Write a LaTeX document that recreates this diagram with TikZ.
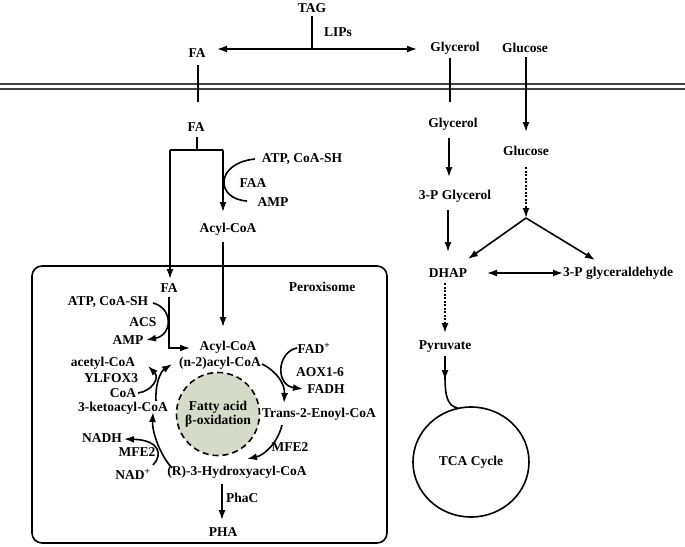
\documentclass[tikz,border=0pt]{standalone}
\usepackage{fontspec}
\setmainfont{Liberation Serif}
\usetikzlibrary{arrows.meta,shapes.geometric}
\definecolor{sage}{RGB}{214,218,200}
\begin{document}
\begin{tikzpicture}[x=1pt,y=-1pt,
  lbl/.style={font=\fontsize{13.5}{15}\selectfont\bfseries, inner sep=0pt},
  ln/.style={line width=1.6pt},
  arr/.style={ln,-{Latex[length=10pt,width=7pt]}},
  dblarr/.style={ln,{Latex[length=10pt,width=7pt]}-{Latex[length=10pt,width=7pt]}},
  dotarr/.style={arr,dash pattern=on 2pt off 1.5pt},
  mem/.style={line width=2pt,draw=black!75},
  perox/.style={draw,line width=1.6pt,rounded corners=10pt},
  betaox/.style={circle,draw,line width=1.6pt,dash pattern=on 6pt off 4pt,fill=sage,minimum size=83pt,inner sep=0pt},
  tca/.style={ellipse,draw,line width=1.6pt,minimum width=116pt,minimum height=110pt},
]
\useasboundingbox (0,0) rectangle (685,546);

% membrane
\draw[mem] (0,84) -- (685,84);
\draw[mem] (0,89) -- (685,89);

% outside
\node[lbl] (tag) at (312,8) {TAG};
\node[lbl] (lips) at (338,32) {LIPs};
\node[lbl] (fa0) at (197,53) {FA};
\node[lbl] (gly0) at (455,48) {Glycerol};
\node[lbl] (glc0) at (525,48) {Glucose};
\coordinate (lipmid) at (312,49);
\coordinate (lipL) at (217,49);
\coordinate (lipR) at (417,49);
\draw[ln] (312,16) -- (lipmid);
\draw[dblarr] (lipL) -- (lipR);

% crossing lines
\coordinate (fain) at (198,102);
\coordinate (glyin) at (450,102);
\draw[ln] (198,65) -- (fain);
\draw[ln] (450,58) -- (glyin);

% right-hand pathway
\node[lbl] (gly1) at (453,124) {Glycerol};
\node[lbl] (glc1) at (526,151) {Glucose};
\node[lbl] (pgly) at (455,196) {3-P Glycerol};
\node[lbl] (dhap) at (448,273) {DHAP};
\node[lbl,anchor=west] (gap) at (563,273) {3-P glyceraldehyde};
\node[lbl] (pyr) at (445,347) {Pyruvate};
\coordinate (split) at (526,218);
\draw[arr] (526,57) -- (526,132);
\draw[arr] (449,138) -- (449,177);
\draw[arr] (448,210) -- (448,252);
\draw[dotarr] (526,167) -- (split);
\draw[arr] (split) -- (468,259);
\draw[arr] (split) -- (595,260);
\draw[dblarr] (487,273) -- (gap.west);
\draw[dotarr] (445,283) -- (445,333);
\draw[arr] (445,356) -- (445,380);
\node[tca] (tcac) at (471,462) {};
\node[lbl] at (tcac) {TCA Cycle};
\draw[ln] (445,376) .. controls (445,398) and (448,406) .. (458,408);

% fatty acid entry
\node[lbl] (fa1) at (196,127) {FA};
\coordinate (br) at (197,150);
\coordinate (brL) at (170,150);
\coordinate (brR) at (223,150);
\draw[ln] (197,137) -- (br);
\draw[ln] (brL) -- (brR);
\draw[arr] (brL) -- (170,279);
\draw[arr] (brR) -- (223,212);
\node[lbl] (atp0) at (302,159) {ATP, CoA-SH};
\node[lbl] (faa) at (253,183) {FAA};
\node[lbl] (amp0) at (273,202) {AMP};
\draw[ln] (255,159) .. controls (215,163) and (215,199) .. (247,201);
\node[lbl] (acyl0) at (228,229) {Acyl-CoA};
\draw[arr] (223,242) -- (223,327);

% peroxisome
\draw[perox] (32,266) rectangle (387,543);
\node[lbl] (perlbl) at (322,287) {Peroxisome};
\node[lbl] (fa2) at (169,288) {FA};
\draw[arr] (169,297) -- (169,348) -- (190,348);
\node[lbl] (atp1) at (108,302) {ATP, CoA-SH};
\node[lbl] (acs) at (143,322) {ACS};
\node[lbl] (amp1) at (128,340) {AMP};
\draw[arr] (153,303) .. controls (173,308) and (173,335) .. (146,340);

\node[lbl] (acyl1) at (228,347) {Acyl-CoA};
\node[lbl] (n2) at (220,363) {(n-2)acyl-CoA};
\node[lbl] (fad) at (314,348) {FAD\textsuperscript{+}};
\node[lbl] (aox) at (320,372) {AOX1-6};
\node[lbl] (fadh) at (326,389) {FADH};
\node[lbl,anchor=west] (t2e) at (262,414) {Trans-2-Enoyl-CoA};
\node[lbl] (mfeR) at (290,447) {MFE2};
\node[lbl] (r3h) at (237,472) {(R)-3-Hydroxyacyl-CoA};
\node[lbl,anchor=west] (phac) at (226,498) {PhaC};
\node[lbl] (pha) at (223,532) {PHA};
\node[lbl] (nad) at (133,474) {NAD\textsuperscript{+}};
\node[lbl] (mfeL) at (137,452) {MFE2};
\node[lbl] (nadh) at (102,438) {NADH};
\node[lbl] (keto) at (123,408) {3-ketoacyl-CoA};
\node[lbl] (coa) at (123,393) {CoA};
\node[lbl] (ylf) at (111,378) {YLFOX3};
\node[lbl] (acet) at (103,363) {acetyl-CoA};

\node[betaox] (beta) at (218,414) {};
\node[lbl,align=center] at (beta) {Fatty acid\\[-1pt]β-oxidation};

% cycle arcs
\draw[arr] (262,364) .. controls (278,372) and (285,385) .. (284,403);
\draw[arr] (297,348) .. controls (277,352) and (275,385) .. (303,389);
\draw[arr] (282,425) .. controls (278,442) and (265,455) .. (247,459);
\draw[arr] (222,484) -- (222,520);
\draw[arr] (172,468) .. controls (160,455) and (152,432) .. (153,412);
\draw[arr] (153,465) .. controls (163,455) and (160,440) .. (124,439);
\draw[arr] (156,401) .. controls (155,385) and (160,372) .. (172,364);
\draw[arr] (138,393) .. controls (152,391) and (160,378) .. (148,366);
\end{tikzpicture}
\end{document}
